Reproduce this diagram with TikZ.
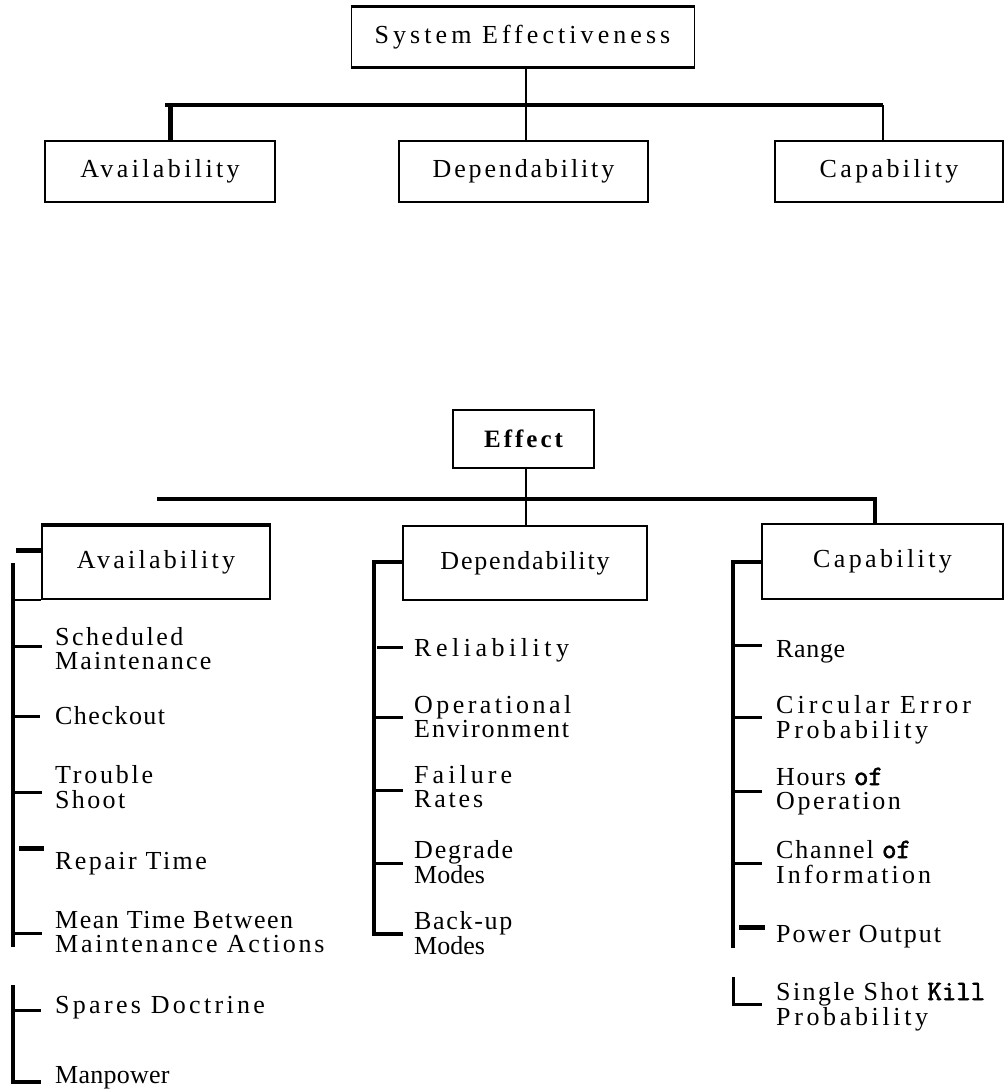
\documentclass[tikz,border=0pt]{standalone}
\usepackage{fontspec}
\setmainfont{Liberation Serif}
\newfontfamily\tmono{Latin Modern Mono}[FakeBold=2]
\newcommand\LS[2]{{\addfontfeatures{LetterSpace=#1}#2}}
\newcommand\TwoL[4]{\begin{tabular}[t]{@{}l@{}}\LS{#1}{#2}\\\LS{#3}{#4}\end{tabular}}
\newcommand\mb[1]{{\tmono\fontsize{28}{24}\selectfont #1}}
\tikzset{
  box/.style={draw, line width=2pt, inner sep=0pt, font=\fontsize{26}{24}\selectfont},
  lbl/.style={anchor=base west, inner sep=0pt, font=\fontsize{26}{24}\selectfont},
  spine/.style={line width=4pt},
  tk/.style={line width=3pt},
  heavy/.style={line width=5pt},
  bar/.style={line width=4pt}
}
\begin{document}
\begin{tikzpicture}[x=1pt,y=-1pt]
\useasboundingbox (0,0) rectangle (1006,1090);

% ---------- top tree ----------
\node[box, line width=1pt, minimum width=343pt, minimum height=60pt] (se) at (522.5,37) {\LS{15.6}{System Effectiveness}};
\draw[line width=3pt] (se.north west) -- (se.north east);
\draw[line width=3pt] (se.south west) -- (se.south east);
\node[box, minimum width=230pt, minimum height=61pt] (av1) at (160,171.5) {\LS{13}{Availability}};
\node[box, minimum width=249pt, minimum height=61pt] (dep1) at (523.5,171.5) {\LS{11}{Dependability}};
\node[box, minimum width=228pt, minimum height=61pt] (cap1) at (889,171.5) {\LS{13}{Capability}};

\coordinate (b1l) at (165,105);
\coordinate (b1d) at (170,105);
\coordinate (b1r) at (883,105);
\draw[bar] (b1l) -- (b1r);
\draw[line width=2.5pt] (se.south -| 526,0) -- (dep1.north -| 526,0);
\draw[heavy] (b1d) -- (b1d |- av1.north);
\draw[line width=2.5pt] (b1r) -- (b1r |- cap1.north);

% ---------- lower tree ----------
\node[box, minimum width=141pt, minimum height=58pt, font=\fontsize{25}{24}\selectfont\bfseries] (eff) at (523.5,439) {\LS{12}{Effect}};
\node[box, minimum width=228pt, minimum height=73pt] (av2) at (156,562.5) {\LS{12.5}{Availability}};
\draw[line width=4pt] (av2.north west) -- (av2.north east);
\node[box, minimum width=244pt, minimum height=74pt] (dep2) at (525,563) {\LS{7}{Dependability}};
\node[box, minimum width=241pt, minimum height=75pt] (cap2) at (882.5,561.5) {\LS{13}{Capability}};

\coordinate (b2l) at (157,499);
\coordinate (b2r) at (875,499);
\draw[line width=2.5pt] (eff.south -| 526,0) -- (dep2.north -| 526,0);
\draw[bar] (b2l) -- (b2r) -- (b2r |- cap2.north);

% ---------- Availability branch ----------
\coordinate (sa1) at (16,550);
\draw[heavy] (sa1) -- (sa1 -| av2.west);
\coordinate (spA) at (13,563);
\coordinate (spAend) at (13,947);
\draw[spine] (spA) -- (spAend);
\draw[line width=2pt] (spA |- av2.south) -- (av2.south west);

\node[lbl] (sched) at (55,645) {\TwoL{9.5}{Scheduled}{8.4}{Maintenance}};
\node[lbl] (check) at (55,724) {\LS{5.7}{Checkout}};
\node[lbl] (trouble) at (55,783) {\TwoL{10.7}{Trouble}{9}{Shoot}};
\node[lbl] (repair) at (55,869) {\LS{9.4}{Repair Time}};
\node[lbl] (mtbma) at (55,928) {\TwoL{5.7}{Mean Time Between}{10.8}{Maintenance Actions}};
\draw[tk] (13,646) -- (42,646);
\draw[tk] (13,716) -- (40,716);
\draw[tk] (13,792) -- (42,792);
\draw[heavy] (19,848) -- (44,848);
\draw[tk] (13,933) -- (42,933);

\node[lbl] (spares) at (55,1013) {\LS{12.7}{Spares Doctrine}};
\node[lbl] (manp) at (55,1083) {\LS{1}{Manpower}};
\draw[spine] (13,985) -- (13,1082) -- (41,1082);
\draw[tk] (13,1010) -- (41,1010);

% ---------- Dependability branch ----------
\coordinate (spD) at (374,562);
\draw[spine] (spD -| dep2.west) -- (spD) -- (374,934) -- (403,934);
\node[lbl] (rel) at (414,656) {\LS{17.4}{Reliability}};
\node[lbl] (openv) at (414,713) {\TwoL{13.2}{Operational}{7.4}{Environment}};
\node[lbl] (fail) at (414,783) {\TwoL{15.6}{Failure}{10.8}{Rates}};
\node[lbl] (degr) at (414,858) {\TwoL{7}{Degrade}{0}{Modes}};
\node[lbl] (back) at (414,929) {\TwoL{6.4}{Back-up}{0}{Modes}};
\draw[tk] (377,647) -- (403,647);
\draw[tk] (374,717) -- (403,717);
\draw[tk] (374,790) -- (403,790);
\draw[tk] (374,863) -- (403,863);

% ---------- Capability branch ----------
\coordinate (spC) at (733,562);
\draw[spine] (spC -| cap2.west) -- (spC) -- (733,948);
\node[lbl] (range) at (776,657) {\LS{2.5}{Range}};
\node[lbl] (cep) at (776,713) {\TwoL{15.5}{Circular Error}{14}{Probability}};
\node[lbl] (hours) at (776,785) {\TwoL{6}{Hours \mb{of}}{10}{Operation}};
\node[lbl] (chan) at (776,858) {\TwoL{7}{Channel \mb{of}}{11.8}{Information}};
\node[lbl] (power) at (776,942) {\LS{7.6}{Power Output}};
\node[lbl] (sskp) at (776,1000) {\TwoL{9.3}{Single Shot \mb{Kill}}{14}{Probability}};
\draw[tk] (735,645) -- (762,645);
\draw[tk] (733,717) -- (762,717);
\draw[tk] (733,791) -- (762,791);
\draw[tk] (733,863) -- (762,863);
\draw[heavy] (739,927) -- (765,927);
\draw[tk] (733,977) -- (733,1004) -- (762,1004);
\end{tikzpicture}
\end{document}
